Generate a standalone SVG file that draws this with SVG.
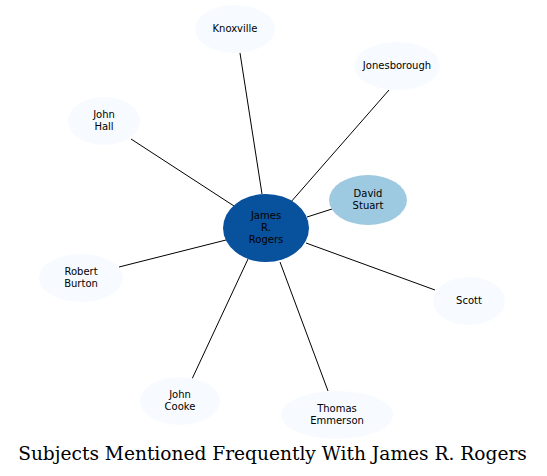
<svg xmlns="http://www.w3.org/2000/svg" width="547" height="476" viewBox="0 0 547 476">
<style>
.e{stroke:#000;stroke-width:1;fill:none}
.t{font-family:"DejaVu Sans",sans-serif;font-size:10px;text-anchor:middle;fill:#000}
.leaf{fill:#f7fbff}
</style>
<rect width="547" height="476" fill="#fff"/>
<g id="edges">
<line class="e" x1="240" y1="53" x2="262" y2="194"/>
<line class="e" x1="389" y1="90" x2="290" y2="203"/>
<line class="e" x1="131" y1="139" x2="234" y2="206"/>
<line class="e" x1="119" y1="267" x2="226" y2="240"/>
<line class="e" x1="435" y1="290" x2="306" y2="243"/>
<line class="e" x1="192" y1="379" x2="248" y2="259"/>
<line class="e" x1="328" y1="391" x2="280" y2="262"/>
<line class="e" x1="332" y1="209" x2="307" y2="217"/>
</g>
<g id="knoxville"><ellipse class="leaf" cx="235" cy="29" rx="40" ry="24"/><text class="t" x="235" y="32">Knoxville</text></g>
<g id="jonesborough"><ellipse class="leaf" cx="397" cy="66" rx="43" ry="24"/><text class="t" x="397" y="69">Jonesborough</text></g>
<g id="john-hall"><ellipse class="leaf" cx="104" cy="121" rx="36" ry="24"/><text class="t" x="104" y="118">John</text><text class="t" x="104" y="130">Hall</text></g>
<g id="robert-burton"><ellipse class="leaf" cx="81" cy="278" rx="42" ry="24"/><text class="t" x="81" y="275">Robert</text><text class="t" x="81" y="287">Burton</text></g>
<g id="scott"><ellipse class="leaf" cx="469" cy="301" rx="36" ry="24"/><text class="t" x="469" y="304">Scott</text></g>
<g id="john-cooke"><ellipse class="leaf" cx="180" cy="401" rx="40" ry="24"/><text class="t" x="180" y="398">John</text><text class="t" x="180" y="410">Cooke</text></g>
<g id="thomas-emmerson"><ellipse class="leaf" cx="337" cy="415" rx="56" ry="24"/><text class="t" x="337" y="412">Thomas</text><text class="t" x="337" y="424">Emmerson</text></g>
<g id="david-stuart"><ellipse cx="368" cy="200" rx="39" ry="25" fill="#9ecae1"/><text class="t" x="368" y="197">David</text><text class="t" x="368" y="209">Stuart</text></g>
<g id="james-r-rogers"><ellipse cx="266" cy="228" rx="43" ry="34" fill="#08519c"/><text class="t" x="266" y="219">James</text><text class="t" x="266" y="231">R.</text><text class="t" x="266" y="243">Rogers</text></g>
<text x="272.5" y="460" font-family="'DejaVu Serif',serif" font-size="18.6" text-anchor="middle" fill="#000">Subjects Mentioned Frequently With James R. Rogers</text>
</svg>
